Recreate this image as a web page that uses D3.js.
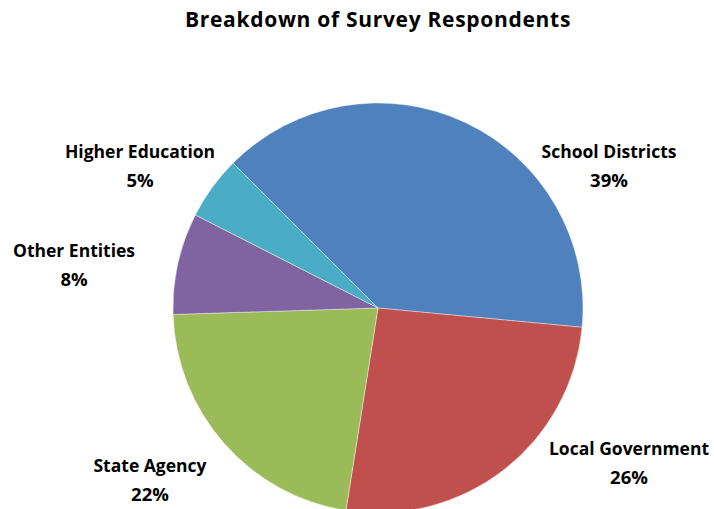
<!DOCTYPE html>
<html>
<head>
<meta charset="utf-8">
<script src="https://cdn.jsdelivr.net/npm/d3@7"></script>
<style>
  body { margin: 0; background: #fff; }
  svg { display: block; font-family: "Open Sans", Lato, sans-serif; }
</style>
</head>
<body>
<div id="chart"></div>
<script>
// data
var categories = ["School Districts", "Local Government", "State Agency", "Other Entities", "Higher Education"]
var shares = [39, 26, 22, 8, 5]
var colors = ["#4F81BD", "#C0504D", "#9BBB59", "#8064A2", "#4BACC6"]

var width = 714
    height = 509

var cx = 378, cy = 308, radius = 205

// label placement (Excel "outside end" style, positioned by hand)
var labelPos = [[231, -150], [251, 147], [-228, 164], [-304, -51], [-238, -150]]

var svg = d3.select("#chart")
  .append("svg")
    .attr("width", width)
    .attr("height", height)

svg.append("text")
    .attr("x", cx)
    .attr("y", 27)
    .attr("text-anchor", "middle")
    .style("font-size", "21px")
    .style("font-weight", "bold")
    .style("letter-spacing", "0.7px")
    .text("Breakdown of Survey Respondents")

var g = svg.append("g")
    .attr("transform", "translate(" + cx + "," + cy + ")")

var pie = d3.pie()
  .sort(null)
  .startAngle(-Math.PI / 4)
  .endAngle(2 * Math.PI - Math.PI / 4)
  .value(function(d) { return d[1] })

var arcGenerator = d3.arc()
  .innerRadius(0)
  .outerRadius(radius)

var data_ready = pie(d3.zip(categories, shares))

g.selectAll("path.slice")
  .data(data_ready)
  .join("path")
  .attr("class", "slice")
  .attr("d", arcGenerator)
  .attr("fill", function(d, i) { return colors[i] })
  .attr("stroke", "#ffffff")
  .attr("stroke-opacity", 0.5)
  .style("stroke-width", "0.8px")

var labels = g.selectAll("text.lbl")
  .data(data_ready)
  .join("text")
  .attr("class", "lbl")
  .attr("text-anchor", "middle")
  .attr("transform", function(d, i) { return "translate(" + labelPos[i][0] + "," + labelPos[i][1] + ")" })
  .style("font-size", "17.5px")
  .style("font-weight", "bold")
  .attr("fill", "#000")

labels.append("tspan")
  .attr("x", 0)
  .attr("y", 0)
  .text(function(d) { return d.data[0] })

labels.append("tspan")
  .attr("x", 0)
  .attr("y", 29)
  .style("font-size", "18.5px")
  .text(function(d) { return d.data[1] + "%" })
</script>
</body>
</html>
